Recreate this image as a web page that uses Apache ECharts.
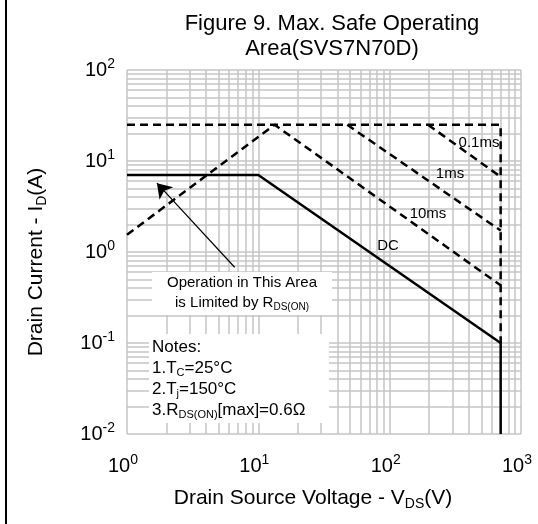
<!DOCTYPE html>
<html><head><meta charset="utf-8">
<script src="https://cdn.jsdelivr.net/npm/echarts@6/dist/echarts.min.js"></script>
<style>html,body{margin:0;padding:0;background:#fff}#c{width:538px;height:524px}</style>
</head><body><div id="c"></div>
<script>
// ---- data ----
const xMinor = [2,3,4,5,6,7,8,9,20,30,40,50,60,70,80,90,200,300,400,500,600,700,800,900];
const yMinor = [0.02,0.03,0.04,0.05,0.06,0.07,0.08,0.09,0.2,0.3,0.4,0.5,0.6,0.7,0.8,0.9,2,3,4,5,6,7,8,9,20,30,40,50,60,70,80,90];
const dcV = [1, 10, 700, 700];
const dcI = [7, 7, 0.1, 0.01];
const limitV = [1, 700, 700];
const limitI = [25, 25, 0.1];
const ms10V = [1, 13.3, 700];
const ms10I = [1.55, 25, 0.43];
const ms1V = [47.5, 700];
const ms1I = [25, 1.72];
const ms01V = [196, 700];
const ms01I = [25, 6.7];
const arrowFrom = [6.6, 0.68];
const arrowTo = [1.69, 5.7];

const FONT = 'Liberation Sans, Arial, sans-serif';
const pairs = (xs, ys) => xs.map((x, i) => [x, ys[i]]);
const dash = [8, 5];
const supFmt = v => '{b|10}{s|' + Math.round(Math.log10(v)) + '}';

const chart = echarts.init(document.getElementById('c'), null, {renderer: 'canvas'});
const gridStyle = {color: '#c4c4c4', width: 1.5, type: 'solid'};
const tickRich = {b: {fontFamily: FONT, fontSize: 20, color: '#000', lineHeight: 26},
                  s: {fontFamily: FONT, fontSize: 14, color: '#000', verticalAlign: 'top', lineHeight: 26}};
const nameRich = {n: {fontFamily: FONT, fontSize: 21, color: '#000', lineHeight: 26},
                  sub: {fontFamily: FONT, fontSize: 14, color: '#000', verticalAlign: 'bottom', lineHeight: 26}};

const option = {
  animation: false,
  backgroundColor: '#fff',
  title: {
    text: 'Figure 9. Max. Safe Operating\nArea(SVS7N70D)',
    left: 327, top: 6, textAlign: 'center',
    textStyle: {fontFamily: FONT, fontSize: 22, fontWeight: 'normal', color: '#000', lineHeight: 25}
  },
  grid: {left: 127, top: 70, width: 394, height: 364, containLabel: false},
  xAxis: {
    type: 'log', logBase: 10, min: 1, max: 1000,
    name: '{n|Drain Source Voltage - V}{sub|DS}{n|(V)}',
    nameLocation: 'middle', nameGap: 51,
    nameTextStyle: {fontFamily: FONT, fontSize: 21, color: '#000', padding: [0, 22, 0, 0], rich: nameRich},
    axisLine: {show: false}, axisTick: {show: false},
    splitLine: {show: true, lineStyle: gridStyle},
    axisLabel: {margin: 19, formatter: supFmt, color: '#000', padding: [0, 8, 0, 0], rich: tickRich}
  },
  yAxis: {
    type: 'log', logBase: 10, min: 0.01, max: 100,
    name: '{n|Drain Current - I}{sub|D}{n|(A)}',
    nameLocation: 'middle', nameGap: 78, nameRotate: 90,
    nameTextStyle: {fontFamily: FONT, fontSize: 21, color: '#000', padding: [0, 20, 0, 0], rich: nameRich},
    axisLine: {show: false}, axisTick: {show: false},
    splitLine: {show: true, lineStyle: gridStyle},
    axisLabel: {margin: 12, formatter: supFmt, color: '#000', rich: tickRich}
  },
  series: [
    {type: 'line', data: [], silent: true, z: 1,
     markLine: {silent: true, symbol: ['none', 'none'], label: {show: false}, lineStyle: gridStyle, animation: false,
       data: xMinor.map(v => ({xAxis: v})).concat(yMinor.map(v => ({yAxis: v})))}},
    {type: 'line', data: pairs(dcV, dcI), showSymbol: false, z: 5, lineStyle: {color: '#000', width: 2.5}},
    {type: 'line', data: pairs(limitV, limitI), showSymbol: false, z: 5, lineStyle: {color: '#000', width: 2.5, type: dash}},
    {type: 'line', data: pairs(ms10V, ms10I), showSymbol: false, z: 5, lineStyle: {color: '#000', width: 2.5, type: dash}},
    {type: 'line', data: pairs(ms1V, ms1I), showSymbol: false, z: 5, lineStyle: {color: '#000', width: 2.5, type: dash}},
    {type: 'line', data: pairs(ms01V, ms01I), showSymbol: false, z: 5, lineStyle: {color: '#000', width: 2.5, type: dash}},
    {type: 'lines', coordinateSystem: 'cartesian2d', z: 6, symbol: ['none', 'arrow'], symbolSize: 14,
     lineStyle: {color: '#000', width: 1.2, opacity: 1},
     data: [{coords: [arrowFrom, arrowTo]}]}
  ],
  graphic: [
    {type: 'line', shape: {x1: 6, y1: 0, x2: 6, y2: 524}, style: {stroke: '#000', lineWidth: 2}},
    {type: 'rect', shape: {x: 152, y: 272, width: 180, height: 43}, style: {fill: '#fff'}, z: 10},
    {type: 'text', x: 242, y: 283, z: 11, style: {text: 'Operation in This Area', font: '15px ' + FONT, fill: '#000', align: 'center', verticalAlign: 'middle'}},
    {type: 'text', x: 242, y: 303, z: 11, style: {text: '{n|is Limited by R}{sub|DS(ON)}', align: 'center', verticalAlign: 'middle',
      rich: {n: {font: '15px ' + FONT, fill: '#000', lineHeight: 18}, sub: {font: '10px ' + FONT, fill: '#000', verticalAlign: 'bottom', lineHeight: 18}}}},
    {type: 'rect', shape: {x: 149, y: 334, width: 180, height: 89}, style: {fill: '#fff'}, z: 10},
    {type: 'text', x: 152, y: 347, z: 11, style: {text: 'Notes:', font: '17px ' + FONT, fill: '#000', align: 'left', verticalAlign: 'middle'}},
    {type: 'text', x: 152, y: 368, z: 11, style: {text: '{n|1.T}{sub|C}{n|=25°C}', align: 'left', verticalAlign: 'middle',
      rich: {n: {font: '17px ' + FONT, fill: '#000', lineHeight: 20}, sub: {font: '11px ' + FONT, fill: '#000', verticalAlign: 'bottom', lineHeight: 20}}}},
    {type: 'text', x: 152, y: 389, z: 11, style: {text: '{n|2.T}{sub|j}{n|=150°C}', align: 'left', verticalAlign: 'middle',
      rich: {n: {font: '17px ' + FONT, fill: '#000', lineHeight: 20}, sub: {font: '11px ' + FONT, fill: '#000', verticalAlign: 'bottom', lineHeight: 20}}}},
    {type: 'text', x: 152, y: 410, z: 11, style: {text: '{n|3.R}{sub|DS(ON)}{n|[max]=0.6Ω}', align: 'left', verticalAlign: 'middle',
      rich: {n: {font: '17px ' + FONT, fill: '#000', lineHeight: 20}, sub: {font: '11px ' + FONT, fill: '#000', verticalAlign: 'bottom', lineHeight: 20}}}},
    {type: 'text', x: 479, y: 143, z: 11, style: {text: '0.1ms', font: '15px ' + FONT, fill: '#000', align: 'center', verticalAlign: 'middle'}},
    {type: 'text', x: 450, y: 174, z: 11, style: {text: '1ms', font: '15px ' + FONT, fill: '#000', align: 'center', verticalAlign: 'middle'}},
    {type: 'text', x: 428, y: 214, z: 11, style: {text: '10ms', font: '15px ' + FONT, fill: '#000', align: 'center', verticalAlign: 'middle'}},
    {type: 'text', x: 388, y: 246, z: 11, style: {text: 'DC', font: '15px ' + FONT, fill: '#000', align: 'center', verticalAlign: 'middle'}}
  ]
};
chart.setOption(option);
</script></body></html>
